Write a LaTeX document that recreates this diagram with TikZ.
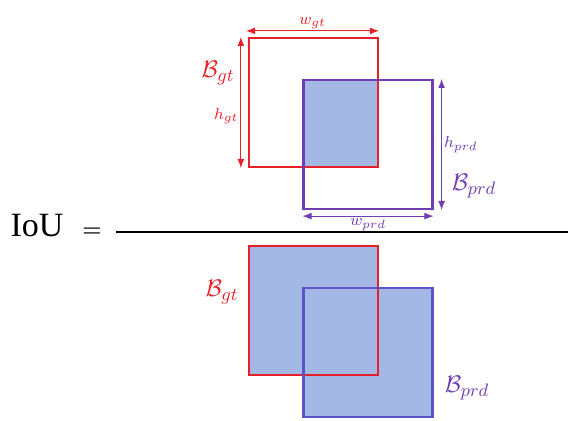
\documentclass[tikz,border=0pt]{standalone}
\usepackage{amsmath}
\usepackage{fontspec}
\newfontfamily\iouserif{Liberation Serif}
\usepackage{tikz}
\usetikzlibrary{
  arrows.meta,
  positioning,
  calc,
  backgrounds
}
\definecolor{GtRed}{RGB}{232,32,40}
\definecolor{PrdPurple}{RGB}{112,62,176}
\definecolor{PrdBlue}{RGB}{92,84,196}
\definecolor{AreaTint}{RGB}{164,184,230}
\tikzset{
  gtbox/.style={
    draw=GtRed,
    line width=1.1pt,
    minimum size=64.5pt,
    inner sep=0pt
  },
  prdbox/.style={gtbox,draw=PrdPurple},
  prdfillbox/.style={gtbox,draw=PrdBlue},
  gtdim/.style={{Latex[length=1.6mm,width=1.2mm]}-{Latex[length=1.6mm,width=1.2mm]},line width=0.5pt,draw=GtRed},
  prddim/.style={gtdim,draw=PrdPurple},
  dimlabel/.style={font=\footnotesize,inner sep=1pt},
  boxlabel/.style={font=\fontsize{12.5}{14}\selectfont,inner sep=1pt}
}

\begin{document}
\begin{tikzpicture}[x=0.5pt,y=-0.5pt]
  \useasboundingbox (0,0) rectangle (568,421);

  % numerator: intersection
  \node[gtbox] (gt) at (313.5,102.5) {};
  \node[prdbox] (prd) at (368,144.5) {};
  \begin{scope}[on background layer]
    \fill[AreaTint] (prd.north west) rectangle (gt.south east);
  \end{scope}

  \draw[gtdim] ($(gt.north west)+(-2,-6)$) -- ($(gt.north east)+(0,-6)$)
    node[midway,above,dimlabel,text=GtRed]{$w_{gt}$};
  \draw[gtdim] ($(gt.north west)+(-7,0)$) -- ($(gt.south west)+(-7,0)$)
    node[pos=0.6,left,dimlabel,text=GtRed]{$h_{gt}$};
  \node[boxlabel,text=GtRed] (gtname) at (218,73) {$\mathcal{B}_{gt}$};

  \draw[prddim] ($(prd.north east)+(8,0)$) -- ($(prd.south east)+(8,0)$)
    node[pos=0.5,right,dimlabel,text=PrdPurple]{$h_{prd}$};
  \draw[prddim] ($(prd.south west)+(0,6)$) -- ($(prd.south east)+(0,6)$)
    node[midway,below,dimlabel,text=PrdPurple]{$w_{prd}$};
  \node[boxlabel,text=PrdPurple] (prdname) at (474,186) {$\mathcal{B}_{prd}$};

  % fraction
  \node[font=\iouserif\fontsize{17}{20}\selectfont,inner sep=0pt] (iou) at (37,226) {IoU};
  \node[font=\fontsize{11}{12}\selectfont\bfseries,inner sep=0pt] (eq) at (92,232) {=};
  \coordinate (barend) at (568,232);
  \draw[line width=1.3pt] ($(eq.east)+(14,0)$) -- (barend);

  % denominator: union
  \node[gtbox] (gtu) at (313.5,310.5) {};
  \node[prdfillbox] (prdu) at (368,352.5) {};
  \begin{scope}[on background layer]
    \fill[AreaTint] (gtu.north west) rectangle (gtu.south east);
    \fill[AreaTint] (prdu.north west) rectangle (prdu.south east);
  \end{scope}
  \node[boxlabel,text=GtRed] (gtuname) at (222,292) {$\mathcal{B}_{gt}$};
  \node[boxlabel,text=PrdPurple] (prduname) at (467,388) {$\mathcal{B}_{prd}$};
\end{tikzpicture}
\end{document}
